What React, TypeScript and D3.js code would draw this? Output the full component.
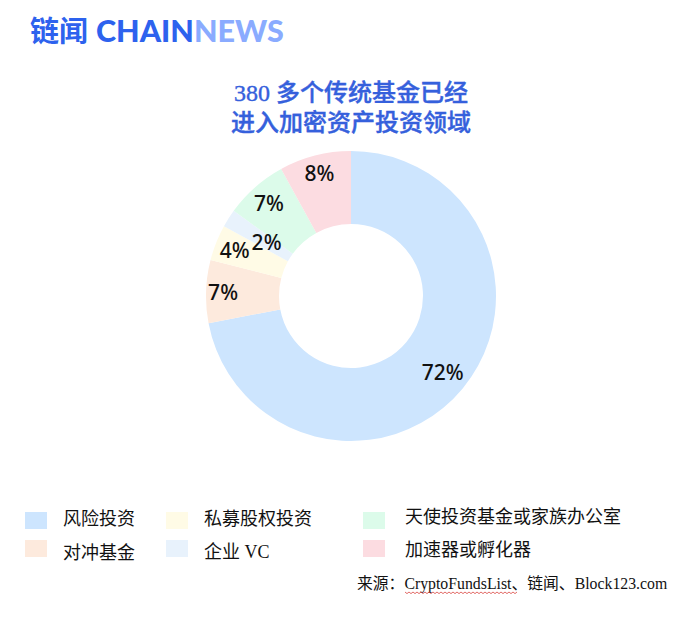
import React from 'react'
import * as d3 from 'd3'

const categories = ['风险投资', '对冲基金', '私募股权投资', '企业 VC', '天使投资基金或家族办公室', '加速器或孵化器']
const values = [72, 7, 4, 2, 7, 8]
const colors = ['#cde5fe', '#fdeadd', '#fffbe6', '#e8f2fc', '#dcfbea', '#fcdce1']
const titleLines = ['380 多个传统基金已经', '进入加密资产投资领域']

// 标签离圆心的距离，原图是手工摆放的
const labelRadius = [119, 128, 125, 100, 124, 127]

// 图例位置：三列两行，顺序和数据一致
const legendCols = [25, 166, 363]
const legendRows = [512, 540]
const legendTextY = [525, 559, 525, 558, 523, 556]

const w = 688
const h = 626
const cx = 351
const cy = 296
const outer = 145
const inner = 72

const serif = '"Liberation Serif", "Noto Sans CJK SC", serif'

const App = () => {
    const pie = d3.pie<number>().sort(null).value(d => d)
    const arcs = pie(values)
    const arc = d3.arc<d3.PieArcDatum<number>>().innerRadius(inner).outerRadius(outer)

    // 红色波浪线（拼写检查的下划线）
    const wave = d3.line<number>()
        .x(d => 405 + d)
        .y((d, i) => 592 + (i % 2 === 0 ? 0 : 1.6))(d3.range(0, 113, 2)) ?? ''

    return (
        <svg width={w} height={h} style={{ position: 'absolute', left: 0, top: 0, background: '#fff' }}>
            <text x={30} y={42} fontSize={29} fontWeight={700} fontFamily='"Noto Sans CJK SC", sans-serif' fill="#2d62ee">链闻</text>
            <text x={96} y={42} fontSize={30.5} fontWeight={900} fontFamily='Lato, sans-serif' fill="#2d62ee">
                CHAIN<tspan fill="#8aabff">NEWS</tspan>
            </text>

            {titleLines.map((t, i) => (
                <text key={t} x={351} y={101 + i * 30} textAnchor="middle" fontSize={24} fontWeight={500} fontFamily={serif} fill="#3560dc" stroke="#3560dc" strokeWidth={0.4}>{t}</text>
            ))}

            <g transform={`translate(${cx},${cy})`}>
                {arcs.map((d, i) => <path key={i} d={arc(d) ?? ''} fill={colors[i]} />)}
                {arcs.map((d, i) => {
                    const [x, y] = d3.arc<d3.PieArcDatum<number>>().innerRadius(labelRadius[i]).outerRadius(labelRadius[i]).centroid(d)
                    return (
                        <text key={i} x={x} y={y} textAnchor="middle" dominantBaseline="central" fontSize={21} fontWeight={500} fontFamily='"Noto Sans", sans-serif' fill="#111">
                            {values[i]}%
                        </text>
                    )
                })}
            </g>

            {categories.map((c, i) => {
                const col = legendCols[Math.floor(i / 2)]
                const row = legendRows[i % 2]
                return (
                    <g key={c}>
                        <rect x={col} y={row} width={22} height={17} fill={colors[i]} />
                        <text x={col + (i < 4 ? 38 : 42)} y={legendTextY[i]} fontSize={18} fontFamily={serif} fill="#111">{c}</text>
                    </g>
                )
            })}

            <text x={357} y={589} fontSize={15.8} fontFamily={serif} fill="#111">来源：CryptoFundsList、链闻、Block123.com</text>
            <path d={wave} fill="none" stroke="#d9443f" strokeWidth={0.8} />
        </svg>
    )
}

export default App
